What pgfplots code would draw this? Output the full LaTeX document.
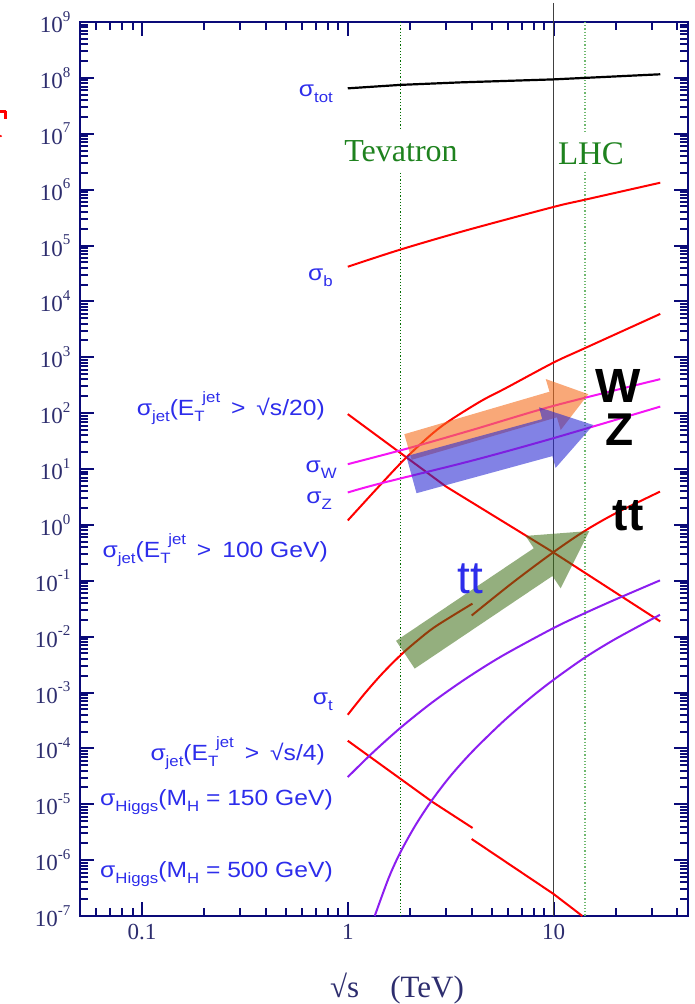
\documentclass[border=0pt]{standalone}
\usepackage{pgfplots}
\pgfplotsset{compat=1.18}
\usepackage{fontspec}
\setmainfont{Liberation Serif}
\newfontfamily\ars{Liberation Sans}
\definecolor{axnavy}{RGB}{10,10,120}
\definecolor{ticklab}{RGB}{45,45,110}
\definecolor{lblue}{RGB}{45,45,235}
\definecolor{tgreen}{RGB}{30,130,30}
\definecolor{tevg}{RGB}{0,110,0}
\definecolor{lhcg}{RGB}{110,185,110}
\definecolor{cred}{RGB}{255,0,0}
\definecolor{cmag}{RGB}{245,20,245}
\definecolor{cpur}{RGB}{140,30,240}
\definecolor{aorange}{RGB}{245,110,30}
\definecolor{ablue}{RGB}{40,40,210}
\definecolor{agreen}{RGB}{60,110,20}
\newcommand\fs[1]{\fontsize{#1}{#1}\selectfont}
\newcommand\ex[1]{\raisebox{0.5em}{\fs{15}#1}}
\newcommand\lsub[1]{\raisebox{-0.3em}{\fs{15}#1}}
\newcommand\lsup[1]{\raisebox{0.55em}{\fs{15}#1}}
\def\myminors{1e-7}
\foreach \e in {-7,...,8}{\foreach \m in {2,...,9}{\xdef\myminors{\myminors,\m e\e}}}
\begin{document}
\begin{tikzpicture}[x=1pt,y=1pt]
\useasboundingbox (0,0) rectangle (695,-1004);
\begin{axis}[
  at={(80pt,-916pt)}, anchor=south west, scale only axis,
  width=608pt, height=894pt,
  xmode=log, ymode=log,
  xmin=0.05, xmax=45, ymin=1e-7, ymax=1e9,
  clip=false,
  axis line style={draw=axnavy, line width=2.6pt},
  every tick/.style={axnavy, line width=2pt},
  major tick length=14pt, minor tick length=8pt,
  tick align=inside,
  xtick={0.1,1,10}, xticklabels={0.1,1,10},
  minor xtick={0.06,0.07,0.08,0.09,0.2,0.3,0.4,0.5,0.6,0.7,0.8,0.9,2,3,4,5,6,7,8,9,20,30,40},
  ytick={1e-7,1e-6,1e-5,1e-4,1e-3,1e-2,1e-1,1,1e1,1e2,1e3,1e4,1e5,1e6,1e7,1e8,1e9},
  yticklabels={10\ex{-7},10\ex{-6},10\ex{-5},10\ex{-4},10\ex{-3},10\ex{-2},10\ex{-1},10\ex{0},10\ex{1},10\ex{2},10\ex{3},10\ex{4},10\ex{5},10\ex{6},10\ex{7},10\ex{8},10\ex{9}},
  minor ytick/.expanded={\myminors},
  xticklabel style={font=\fs{23}, text=ticklab, yshift=-5pt},
  yticklabel style={font=\fs{23}, text=ticklab, xshift=-6pt},
]
% vertical reference lines
\draw[tevg, dotted, line width=1.2pt] (axis cs:1.8,1e9) -- (axis cs:1.8,1.27e7);
\draw[tevg, dotted, line width=1.2pt] (axis cs:1.8,1.99e6) -- (axis cs:1.8,1e-7);
\draw[lhcg, dotted, line width=1.2pt] (axis cs:14.2,1e9) -- (axis cs:14.2,1.03e7);
\draw[lhcg, dotted, line width=1.2pt] (axis cs:14.2,2.07e6) -- (axis cs:14.2,1e-7);
\draw[black!75, line width=1.1pt] (axis cs:10,2.2e9) -- (axis cs:10,1e-7);
% sigma_tot
\addplot[black, line width=2.2pt] coordinates {(1,6.5e7) (1.81,7.5e7) (3.5,8.3e7) (10,9.4e7) (33,1.16e8)};
% sigma_b
\addplot[cred, line width=2pt, smooth] coordinates {(1,4.17e4) (1.81,8.5e4) (3.75,1.86e5) (10,4.9e5) (14.2,6.6e5) (33,1.33e6)};
% sigma_jet rising (E_T > 100 GeV)
\addplot[cred, line width=2pt, smooth] coordinates {(1,1.2) (1.416,4.87) (1.946,16.7) (2.82,56.2) (4.36,158) (5.88,282) (10,804) (14.2,1456) (33,5970)};
% sigma_jet falling (upper)
\addplot[cred, line width=2pt] coordinates {(1,96) (3.0,4.86) (10,0.32) (33,0.0187)};
% sigma_jet falling (lower), two pieces
\addplot[cred, line width=2pt] coordinates {(1,1.37e-4) (2.58,1.1e-5) (4.04,3.77e-6)};
\addplot[cred, line width=2pt] coordinates {(4.0,2.39e-6) (10,2.48e-7) (13.8,1.0e-7)};
% sigma_t, two pieces
\addplot[cred, line width=2pt, smooth] coordinates {(1,4.0e-4) (1.202,9.35e-4) (1.469,2.17e-3) (1.807,4.67e-3) (2.188,8.61e-3) (2.69,0.0155) (4.036,0.039)};
\addplot[cred, line width=2pt, smooth] coordinates {(4.0,0.0239) (6.31,0.0918) (10,0.326) (14.16,0.778) (19.95,1.6) (32.9,3.94)};
% sigma_W, sigma_Z
\addplot[cmag, line width=2pt, smooth] coordinates {(1,12.2) (1.985,23.7) (4.04,50.2) (10,135) (33,406)};
\addplot[cmag, line width=2pt, smooth] coordinates {(1,3.8) (1.416,5.43) (4.04,14.2) (10,35.7) (33,131)};
% Higgs
\addplot[cpur, line width=2pt, smooth] coordinates {(1,3.07e-5) (1.318,8.3e-5) (1.807,2.35e-4) (2.576,6.68e-4) (3.75,1.77e-3) (5.623,4.51e-3) (10,0.01426) (14.16,0.0262) (19.95,0.0461) (32.9,0.1016)};
\addplot[cpur, line width=2pt, smooth] coordinates {(1.352,1e-7) (1.585,4.92e-7) (1.807,1.41e-6) (2.138,4.27e-6) (2.576,1.21e-5) (3.162,3.24e-5) (4.036,8.83e-5) (5.623,2.91e-4) (7.638,7.76e-4) (10,1.69e-3) (14.16,4.19e-3) (19.95,9.06e-3) (32.9,0.0246)};
\end{axis}
% arrows
\fill[aorange, opacity=0.6] (404.3,-434.2) -- (549.5,-391.7) -- (545.7,-379) -- (588.3,-394.2) -- (560.7,-430) -- (556.9,-417.3) -- (411.7,-459.8) -- cycle;
\fill[ablue, opacity=0.58] (406.3,-456.2) -- (542.2,-419.1) -- (539,-407.3) -- (593.3,-425) -- (555.6,-467.9) -- (552.4,-456.1) -- (416.5,-493.2) -- cycle;
\fill[agreen, opacity=0.55] (396.1,-640.8) -- (533.8,-548.2) -- (525.5,-535.9) -- (589.3,-531) -- (560.7,-588.3) -- (552.4,-576) -- (414.7,-668.6) -- cycle;
% texts
\node[anchor=base, text=tgreen, font=\fs{32}] at (401,-161) {Tevatron};
\node[anchor=base, text=tgreen, font=\fs{33}] at (591,-164) {LHC};
\node[anchor=base, font=\ars\bfseries\fs{48}, inner sep=0] at (618,-402) {W};
\node[anchor=base, font=\ars\bfseries\fs{46}, inner sep=0] at (620,-445) {Z};
\node[anchor=base, font=\ars\bfseries\fs{46}, inner sep=0] at (628,-530) {tt};
\node[anchor=base, text=lblue, font=\ars\fs{46}, inner sep=0] at (470,-593) {tt};
\begin{scope}[every node/.style={anchor=base east, text=lblue, font=\ars\fs{22}, inner sep=0, xscale=1.12}]
\node at (333,-96) {σ\lsub{tot}};
\node at (333,-280) {σ\lsub{b}};
\node at (325,-415) {σ\lsub{jet}(E\lsub{T}\kern-2pt\lsup{jet} \,>\, √s/20)};
\node at (337,-472) {σ\lsub{W}};
\node at (332,-503) {σ\lsub{Z}};
\node at (328,-557) {σ\lsub{jet}(E\lsub{T}\kern-2pt\lsup{jet} \,>\, 100 GeV)};
\node at (333,-704) {σ\lsub{t}};
\node at (325,-760) {σ\lsub{jet}(E\lsub{T}\kern-2pt\lsup{jet} \,>\, √s/4)};
\node at (333,-805) {σ\lsub{Higgs}(M\lsub{H} = 150 GeV)};
\node at (333,-877) {σ\lsub{Higgs}(M\lsub{H} = 500 GeV)};
\end{scope}
\node[anchor=base, text=ticklab, font=\fs{31}] at (397,-997) {√s\quad(TeV)};
% fragment of a cut-off red mark at the left edge
\draw[red, line width=2.2pt] (0,-111.5) -- (6,-111.5) (5.5,-110.5) -- (5.5,-119);
\fill[red] (0.8,-136) circle (1.2);
\end{tikzpicture}
\end{document}
